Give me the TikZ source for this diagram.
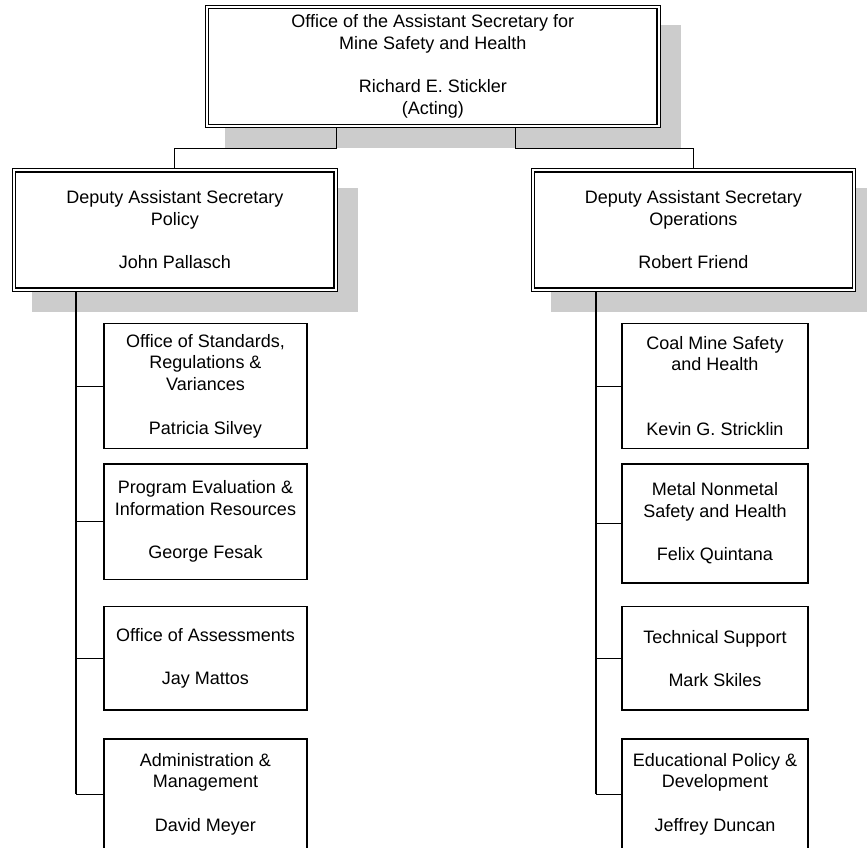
\documentclass[tikz,border=0pt]{standalone}
\usepackage{fontspec}
\setmainfont{Liberation Sans}
\usetikzlibrary{calc}
\pgfdeclarelayer{background}
\pgfsetlayers{background,main}
\begin{document}
\begin{tikzpicture}[x=1pt,y=-1pt,
  every node/.style={font=\fontsize{18}{21.7}\selectfont, align=center, inner sep=0pt},
  dbox/.style={draw, double, double distance=2.3pt, line width=1.1pt, fill=white, outer sep=2.25pt},
  sbox/.style={draw, line width=1.2pt, fill=white, outer sep=0.6pt},
  conn/.style={line width=1.2pt},
  spine/.style={line width=1.8pt},
  tick/.style={line width=1pt},
  shadowfill/.style={fill=gray!40}]
\clip (0,0) rectangle (867,848);

\node[dbox, minimum width=451.7pt, minimum height=119pt] (top) at (432.8,66.5)
  {Office of the Assistant Secretary for\\Mine Safety and Health\\[21.7pt]Richard E. Stickler\\(Acting)};
\node[dbox, minimum width=321.7pt, minimum height=119.4pt] (dl) at (174.8,230)
  {Deputy Assistant Secretary\\Policy\\[21.7pt]John Pallasch};
\node[dbox, minimum width=321pt, minimum height=119.4pt] (dr) at (693.3,230)
  {Deputy Assistant Secretary\\Operations\\[21.7pt]Robert Friend};

\node[sbox, minimum width=203pt, minimum height=125.7pt] (L1) at (205.5,386)
  {Office of Standards,\\Regulations \&\\Variances\\[21.7pt]Patricia Silvey};
\node[sbox, minimum width=203pt, minimum height=115.3pt] (L2) at (205.5,521.7)
  {Program Evaluation \&\\Information Resources\\[21.7pt]George Fesak};
\node[sbox, minimum width=203pt, minimum height=103.3pt] (L3) at (205.5,658.3)
  {Office of Assessments\\[21.7pt]Jay Mattos};
\node[sbox, minimum width=203pt, minimum height=110pt] (L4) at (205.5,794)
  {Administration \&\\Management\\[21.7pt]David Meyer};

\node[sbox, minimum width=186pt, minimum height=125.7pt] (R1) at (715,386)
  {Coal Mine Safety\\and Health\\[43.4pt]Kevin G. Stricklin};
\node[sbox, minimum width=186pt, minimum height=119pt] (R2) at (715,523.5)
  {Metal Nonmetal\\Safety and Health\\[21.7pt]Felix Quintana};
\node[sbox, minimum width=186pt, minimum height=103.3pt] (R3) at (715,658.3)
  {Technical Support\\[21.7pt]Mark Skiles};
\node[sbox, minimum width=186pt, minimum height=110pt] (R4) at (715,794)
  {Educational Policy \&\\Development\\[21.7pt]Jeffrey Duncan};

\begin{pgfonlayer}{background}
\foreach \n in {top,dl,dr}
  \fill[shadowfill] ([shift={(20pt,-20pt)}]\n.north west) rectangle ([shift={(20pt,-20pt)}]\n.south east);
\end{pgfonlayer}

\draw[conn] ([xshift=-96pt]top.south) -- ++(0,20) -| (dl.north);
\draw[conn] ([xshift=83pt]top.south) -- ++(0,20) -| (dr.north);

\coordinate (sl) at ([xshift=-98.8pt]dl.south);
\coordinate (sr) at ([xshift=-97.3pt]dr.south);
\draw[spine] (sl) -- (sl |- L4.west);
\draw[spine] (sr) -- (sr |- R4.west);
\foreach \n in {L1,L2,L3,L4}
  \draw[tick] (sl |- \n.west) -- (\n.west);
\foreach \n in {R1,R2,R3,R4}
  \draw[tick] (sr |- \n.west) -- (\n.west);
\end{tikzpicture}
\end{document}
